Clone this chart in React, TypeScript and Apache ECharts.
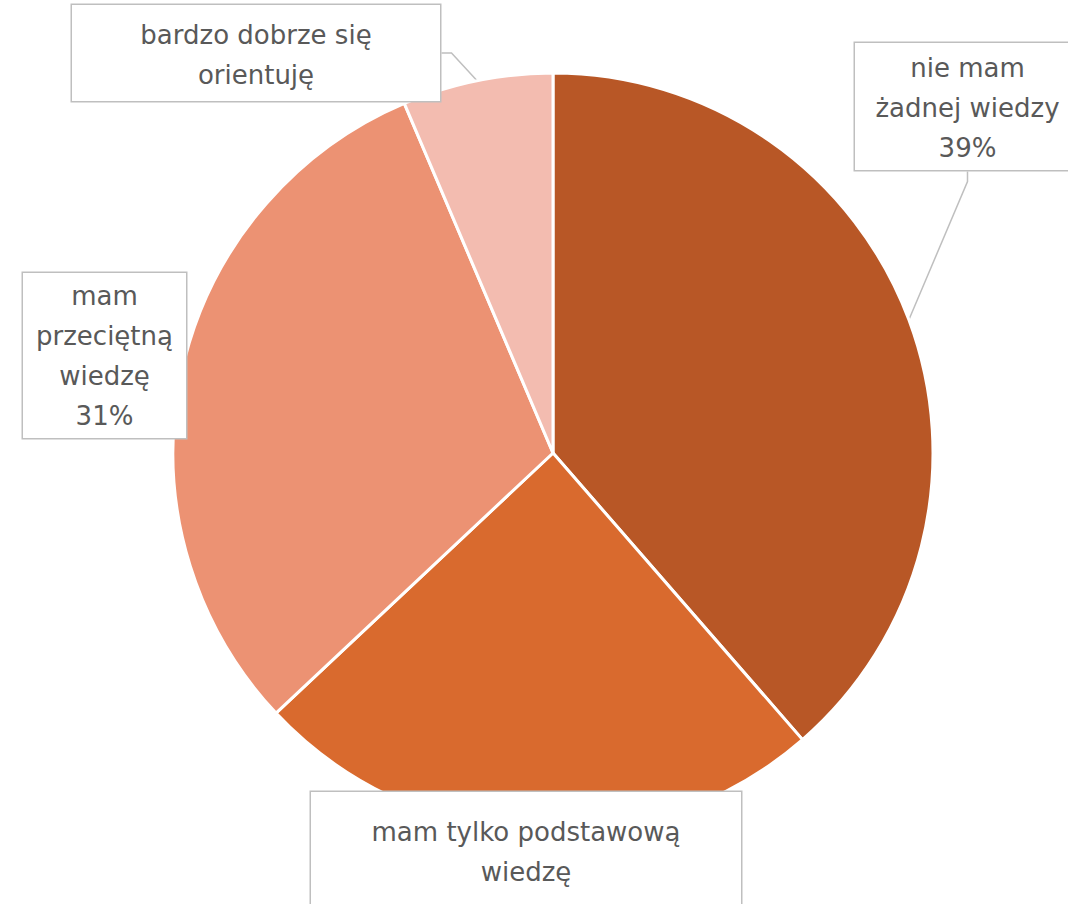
import React, { useEffect, useRef } from 'react';
import * as echarts from 'echarts';

const categories = [
  'nie mam żadnej wiedzy',
  'mam tylko podstawową wiedzę',
  'mam przeciętną wiedzę',
  'bardzo dobrze się orientuję',
];
const values = [38.6, 24.4, 30.6, 6.4];
const labelTexts = [
  'nie mam\nżadnej wiedzy\n{d}%',
  'mam tylko podstawową\nwiedzę',
  'mam\nprzeciętną\nwiedzę\n{d}%',
  'bardzo dobrze się\norientuję',
];
const colors = ['#B85726', '#D96A2E', '#EC9273', '#F3BCB0'];
const showLine = [true, false, false, true];

// label box layout (top-left corner, content width, paddings)
const boxes = [
  { x: 855, y: 43, w: 225, pt: 5, pb: 2 },
  { x: 311, y: 792, w: 430, pt: 20, pb: 34 },
  { x: 23, y: 273, w: 163, pt: 3, pb: 2 },
  { x: 72, y: 5, w: 368, pt: 10, pb: 6 },
];

export default function App() {
  const ref = useRef<HTMLDivElement>(null);
  useEffect(() => {
    const chart = echarts.init(ref.current!, null, { renderer: 'svg' });
    chart.setOption({
      animation: false,
      backgroundColor: '#ffffff',
      series: [
        {
          type: 'pie',
          center: [553, 453],
          radius: 380,
          startAngle: 90,
          clockwise: true,
          percentPrecision: 0,
          itemStyle: { borderColor: '#ffffff', borderWidth: 3 },
          label: {
            show: true,
            color: '#595959',
            fontFamily: 'DejaVu Sans',
            fontSize: 26,
            lineHeight: 40,
            align: 'center',
            backgroundColor: '#ffffff',
            borderColor: '#bfbfbf',
            borderWidth: 1.5,
          },
          labelLine: {
            show: true,
            length: 10,
            length2: 10,
            lineStyle: { color: '#bfbfbf', width: 1.5 },
          },
          labelLayout: (params: any) => {
            const b = boxes[params.dataIndex];
            return { x: b.x + b.w / 2, y: b.y, align: 'center', verticalAlign: 'top' };
          },
          data: categories.map((name, i) => ({
            name,
            value: values[i],
            itemStyle: { color: colors[i] },
            label: {
              formatter: labelTexts[i],
              width: boxes[i].w,
              padding: [boxes[i].pt, 0, boxes[i].pb, 0],
            },
            labelLine: { show: showLine[i] },
          })),
        },
      ],
    });
    return () => chart.dispose();
  }, []);
  return (
    <div
      ref={ref}
      style={{ position: 'fixed', left: 0, top: 0, width: 1068, height: 904 }}
    />
  );
}
